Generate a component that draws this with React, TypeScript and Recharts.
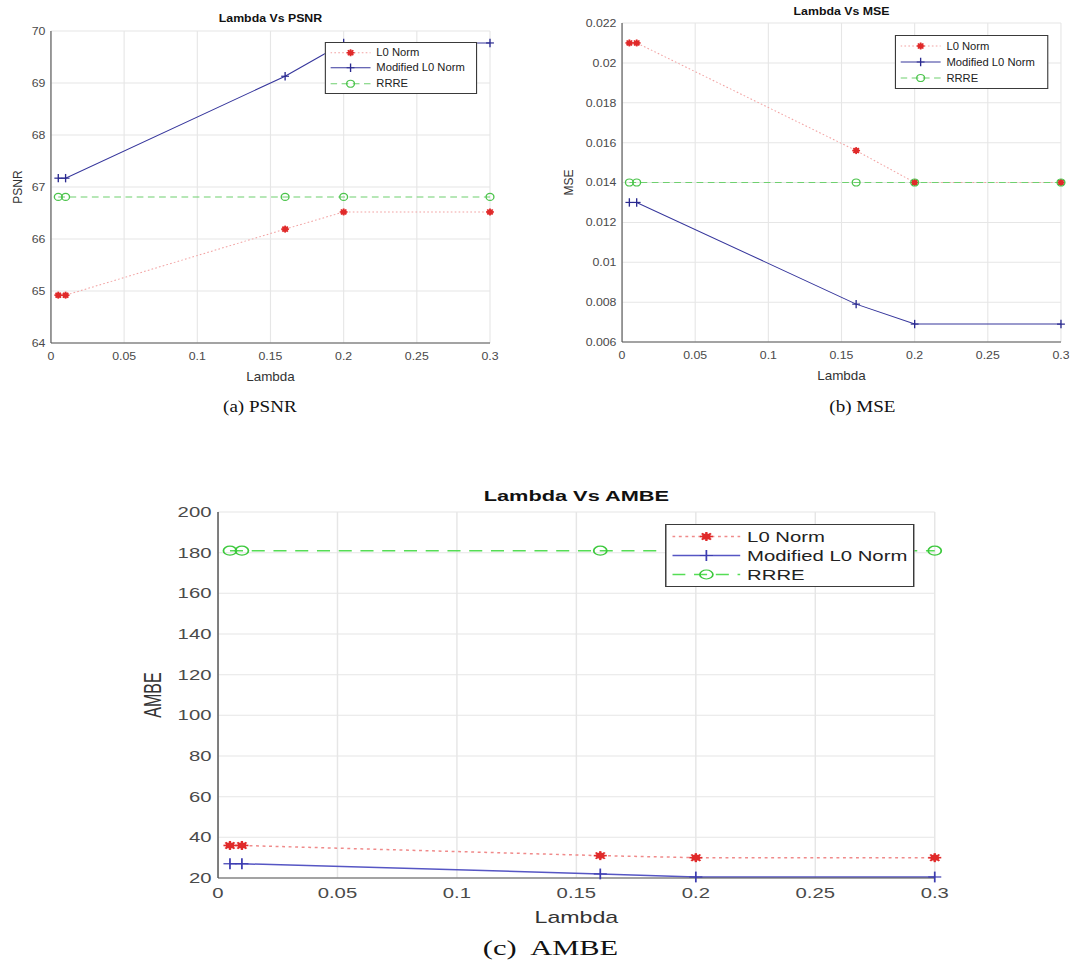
import { LineChart, Line, XAxis, YAxis, CartesianGrid, Legend } from 'recharts';

const lambdaValues = [0.005, 0.01, 0.16, 0.2, 0.3];
const lambdaTicks = [0, 0.05, 0.1, 0.15, 0.2, 0.25, 0.3];
const seriesNames = ['L0 Norm', 'Modified L0 Norm', 'RRRE'];

const psnrL0 = [64.92, 64.92, 66.19, 66.52, 66.52];
const psnrModified = [67.17, 67.17, 69.13, 69.77, 69.77];
const psnrRrre = [66.81, 66.81, 66.81, 66.81, 66.81];
const psnrTicks = [64, 65, 66, 67, 68, 69, 70];

const mseL0 = [0.021, 0.021, 0.0156, 0.014, 0.014];
const mseModified = [0.013, 0.013, 0.0079, 0.0069, 0.0069];
const mseRrre = [0.014, 0.014, 0.014, 0.014, 0.014];
const mseTicks = [0.006, 0.008, 0.01, 0.012, 0.014, 0.016, 0.018, 0.02, 0.022];

const ambeL0 = [36, 36, 31, 30, 30];
const ambeModified = [27, 27, 22, 20.5, 20.5];
const ambeRrre = [181, 181, 181, 181, 181];
const ambeTicks = [20, 40, 60, 80, 100, 120, 140, 160, 180, 200];

const buildRows = (l0: number[], mod: number[], rrre: number[]) =>
  lambdaValues.map((lambda, i) => ({ lambda, l0: l0[i], mod: mod[i], rrre: rrre[i] }));

const SANS = '"Liberation Sans", Arial, sans-serif';
const SERIF = '"Liberation Serif", "Times New Roman", serif';

type Kind = 'star' | 'plus' | 'circle';

const Marker = ({ kind, cx, cy, size, color }: { kind: Kind; cx: number; cy: number; size: number; color: string }) => {
  if (cx == null || cy == null) return null;
  const r = size;
  if (kind === 'star') {
    const d = r * 0.7;
    return (
      <g stroke={color} strokeWidth={1.6}>
        <line x1={cx - r} y1={cy} x2={cx + r} y2={cy} />
        <line x1={cx} y1={cy - r} x2={cx} y2={cy + r} />
        <line x1={cx - d} y1={cy - d} x2={cx + d} y2={cy + d} />
        <line x1={cx - d} y1={cy + d} x2={cx + d} y2={cy - d} />
        <circle cx={cx} cy={cy} r={r * 0.5} fill={color} />
      </g>
    );
  }
  if (kind === 'plus') {
    return (
      <g stroke={color} strokeWidth={1.2}>
        <line x1={cx - r} y1={cy} x2={cx + r} y2={cy} />
        <line x1={cx} y1={cy - r * 1.2} x2={cx} y2={cy + r * 1.2} />
      </g>
    );
  }
  return <circle cx={cx} cy={cy} r={r} fill="none" stroke={color} strokeWidth={1.2} />;
};

type Look = { line: string; mark: string; dash?: string; kind: Kind };

const thinLooks: Look[] = [
  { line: '#f2a3a3', mark: '#e02a2a', dash: '1.5 2', kind: 'star' },
  { line: '#36369c', mark: '#2a2a90', kind: 'plus' },
  { line: '#6fd06f', mark: '#4cc44c', dash: '6 4', kind: 'circle' },
];

const boldLooks: Look[] = [
  { line: '#f08a8a', mark: '#e02a2a', dash: '2 2.5', kind: 'star' },
  { line: '#5656c4', mark: '#3c3cb0', kind: 'plus' },
  { line: '#55dd55', mark: '#3cc83c', dash: '9 6', kind: 'circle' },
];

type Geo = {
  left: number; top: number; stretch: number; width: number; height: number;
  plotLeft: number; plotRight: number; plotTop: number; plotBottom: number;
  tickFont: number; labelFont: number; titleFont: number; titleY: number;
  yLabelX: number; xTickGap: number; yTickGap: number; xLabelOffset: number;
  legend: { left: number; top: number; width: number; font: number; row: number; sample: number };
  caption: { x: number; y: number; font: number; text: string };
  marker: number; lineWidth: number;
};

const LegendBox = ({ geo, looks }: { geo: Geo; looks: Look[] }) => {
  const { font, row, sample } = geo.legend;
  return (
    <div style={{ border: '1px solid #3a3a3a', background: '#fff', padding: '2px 4px', fontFamily: SANS, fontSize: font, color: '#222' }}>
      {looks.map((s, i) => (
        <div key={seriesNames[i]} style={{ display: 'flex', alignItems: 'center', height: row }}>
          <svg width={sample} height={row} style={{ flex: 'none' }}>
            <line x1={0} x2={sample} y1={row / 2} y2={row / 2} stroke={s.line} strokeWidth={geo.lineWidth} strokeDasharray={s.dash} />
            <Marker kind={s.kind} cx={sample / 2} cy={row / 2} size={geo.marker} color={s.mark} />
          </svg>
          <span style={{ marginLeft: 5, whiteSpace: 'nowrap' }}>{seriesNames[i]}</span>
        </div>
      ))}
    </div>
  );
};

type PanelProps = {
  geo: Geo; title: string; yLabel: string; looks: Look[];
  rows: { lambda: number; l0: number; mod: number; rrre: number }[];
  yTicks: number[];
};

const Panel = ({ geo, title, yLabel, looks, rows, yTicks }: PanelProps) => {
  const yDomain = [yTicks[0], yTicks[yTicks.length - 1]];
  const keys = ['l0', 'mod', 'rrre'];
  const tickStyle = { fill: '#4a4a4a', fontSize: geo.tickFont, fontFamily: SANS };
  return (
    <div style={{ position: 'absolute', left: geo.left, top: geo.top, width: geo.width, height: geo.height + 40, transform: `scaleX(${geo.stretch})`, transformOrigin: '0 0' }}>
      <div style={{ position: 'absolute', left: geo.plotLeft, width: geo.plotRight - geo.plotLeft, top: geo.titleY - geo.titleFont * 0.6, textAlign: 'center', fontFamily: SANS, fontWeight: 'bold', fontSize: geo.titleFont, color: '#111', lineHeight: 1.1 }}>
        {title}
      </div>
      <LineChart width={geo.width} height={geo.height} data={rows} margin={{ top: geo.plotTop, right: geo.width - geo.plotRight, bottom: 0, left: 0 }}>
        <CartesianGrid stroke="#e6e6e6" />
        <XAxis
          dataKey="lambda" type="number" domain={[0, 0.3]} ticks={lambdaTicks}
          height={geo.height - geo.plotBottom} tickLine={false} tickSize={0} tickMargin={geo.xTickGap}
          axisLine={{ stroke: '#555' }} tick={tickStyle}
          label={{ value: 'Lambda', position: 'insideBottom', offset: geo.xLabelOffset, fill: '#333', fontSize: geo.labelFont, fontFamily: SANS }}
        />
        <YAxis
          type="number" domain={yDomain} ticks={yTicks} width={geo.plotLeft}
          tickLine={false} tickSize={0} tickMargin={geo.yTickGap} axisLine={{ stroke: '#555' }} tick={tickStyle}
          label={{ value: yLabel, angle: -90, position: 'insideLeft', offset: geo.yLabelX, fill: '#333', fontSize: geo.labelFont, fontFamily: SANS, style: { textAnchor: 'middle' } }}
        />
        <XAxis xAxisId="top" orientation="top" type="number" domain={[0, 0.3]} ticks={lambdaTicks} height={0} tick={false} tickLine={false} axisLine={{ stroke: '#555' }} />
        <YAxis yAxisId="right" orientation="right" type="number" domain={yDomain} ticks={yTicks} width={0} tick={false} tickLine={false} axisLine={{ stroke: '#555' }} />
        <Legend
          layout="vertical" align="center" verticalAlign="middle"
          wrapperStyle={{ left: geo.legend.left, top: geo.legend.top, width: geo.legend.width }}
          content={() => <LegendBox geo={geo} looks={looks} />}
        />
        {keys.map((k, i) => (
          <Line
            key={k} dataKey={k} name={seriesNames[i]} type="linear"
            stroke={looks[i].line} strokeWidth={geo.lineWidth} strokeDasharray={looks[i].dash}
            dot={(p: any) => <Marker key={`${k}-${p.index}`} kind={looks[i].kind} cx={p.cx} cy={p.cy} size={geo.marker} color={looks[i].mark} />}
            activeDot={false} isAnimationActive={false}
          />
        ))}
      </LineChart>
      <div style={{ position: 'absolute', left: geo.caption.x - 100, width: 200, top: geo.caption.y - geo.caption.font * 0.6, textAlign: 'center', fontFamily: SERIF, fontSize: geo.caption.font, color: '#111', lineHeight: 1.1, whiteSpace: 'pre' }}>
        {geo.caption.text}
      </div>
    </div>
  );
};

const geoA: Geo = {
  left: 0, top: 0, stretch: 1.12, width: 470, height: 390,
  plotLeft: 45.5, plotRight: 437.5, plotTop: 31, plotBottom: 343,
  tickFont: 11, labelFont: 12, titleFont: 11, titleY: 19,
  yLabelX: 15, xTickGap: 9, yTickGap: 5, xLabelOffset: 9,
  legend: { left: 290, top: 41.5, width: 136, font: 10, row: 15.5, sample: 36 },
  caption: { x: 232, y: 408, font: 17, text: '(a) PSNR' },
  marker: 3.5, lineWidth: 1,
};

const geoB: Geo = {
  left: 560, top: 0, stretch: 1.12, width: 455, height: 390,
  plotLeft: 55.4, plotRight: 447.3, plotTop: 23, plotBottom: 342,
  tickFont: 11, labelFont: 12, titleFont: 11, titleY: 12,
  yLabelX: 7, xTickGap: 9, yTickGap: 5, xLabelOffset: 10,
  legend: { left: 299, top: 35, width: 137, font: 10, row: 16, sample: 36 },
  caption: { x: 270, y: 408, font: 17, text: '(b) MSE' },
  marker: 3.5, lineWidth: 1,
};

const geoC: Geo = {
  left: 130, top: 460, stretch: 1.45, width: 580, height: 480,
  plotLeft: 60.7, plotRight: 555, plotTop: 52, plotBottom: 418,
  tickFont: 14, labelFont: 16, titleFont: 15, titleY: 37,
  yLabelX: 16, xTickGap: 10, yTickGap: 4.5, xLabelOffset: 17,
  legend: { left: 368.6, top: 64, width: 172, font: 14, row: 19, sample: 47 },
  caption: { x: 290, y: 490, font: 21, text: '(c)  AMBE' },
  marker: 4.5, lineWidth: 1.5,
};

export default function App() {
  return (
    <div style={{ position: 'absolute', left: 0, top: 0, width: 1070, height: 962, overflow: 'hidden', background: '#fff' }}>
      <Panel geo={geoA} title="Lambda Vs PSNR" yLabel="PSNR" looks={thinLooks} rows={buildRows(psnrL0, psnrModified, psnrRrre)} yTicks={psnrTicks} />
      <Panel geo={geoB} title="Lambda Vs MSE" yLabel="MSE" looks={thinLooks} rows={buildRows(mseL0, mseModified, mseRrre)} yTicks={mseTicks} />
      <Panel geo={geoC} title="Lambda Vs AMBE" yLabel="AMBE" looks={boldLooks} rows={buildRows(ambeL0, ambeModified, ambeRrre)} yTicks={ambeTicks} />
    </div>
  );
}
